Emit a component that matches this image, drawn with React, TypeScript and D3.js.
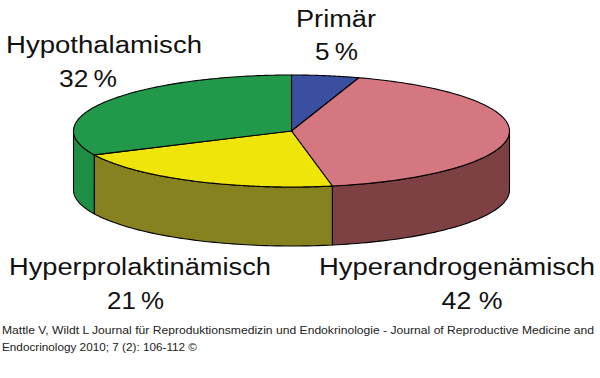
import React from "react";
import * as d3 from "d3";

const categories = ["Primär", "Hyperandrogenämisch", "Hyperprolaktinämisch", "Hypothalamisch"];
const values = [5, 42, 21, 32];
const percentLabels = ["5\u2009%", "42 %", "21\u2009%", "32\u2009%"];
const topColors = ["#3b4fa0", "#d57781", "#efe50b", "#22994a"];
const sideColors = ["#2c3c80", "#7e4143", "#86821f", "#1f8e45"];
const footerLines = [
  "Mattle V, Wildt L Journal für Reproduktionsmedizin und Endokrinologie - Journal of Reproductive Medicine and",
  "Endocrinology 2010; 7 (2): 106-112 ©",
];

// layout for labels: [centerX, nameBaseline, nameWidth, pctCenterX, pctBaseline, pctWidth]
const labelLayout = [
  { nx: 336, ny: 27, nw: 80, px: 336.5, py: 60, pw: 43 },
  { nx: 457, ny: 275, nw: 276, px: 472, py: 309, pw: 61 },
  { nx: 140, ny: 275, nw: 262, px: 135.5, py: 309, pw: 57 },
  { nx: 104, ny: 53, nw: 196, px: 88, py: 87, pw: 58 },
];

const W = 600, H = 378;
const cx = 291.5, cy = 131, rx = 218, ry = 56, depth = 59;

function pt(a: number, dy = 0): [number, number] {
  return [cx + rx * Math.sin(a), cy - ry * Math.cos(a) + dy];
}

function arcPts(a0: number, a1: number, dy = 0, n = 60): [number, number][] {
  const out: [number, number][] = [];
  for (let i = 0; i <= n; i++) out.push(pt(a0 + ((a1 - a0) * i) / n, dy));
  return out;
}

export default function App() {
  const pie = d3.pie<number>().sort(null).startAngle(0).endAngle(2 * Math.PI);
  const arcs = pie(values);
  const line = d3.line();

  const sides: { d: string; color: string }[] = [];
  arcs.forEach((a, i) => {
    const s = Math.max(a.startAngle, Math.PI / 2);
    const e = Math.min(a.endAngle, (3 * Math.PI) / 2);
    if (e > s) {
      const topPts = arcPts(s, e, 0);
      const botPts = arcPts(e, s, depth);
      sides.push({ d: (line([...topPts, ...botPts]) as string) + "Z", color: sideColors[i] });
    }
  });

  const tops = arcs.map((a, i) => {
    const pts: [number, number][] = [[cx, cy], ...arcPts(a.startAngle, a.endAngle, 0, 120)];
    return { d: (line(pts) as string) + "Z", color: topColors[i] };
  });

  return (
    <svg
      width={W}
      height={H}
      style={{ position: "absolute", left: 0, top: 0, background: "#fff" }}
      fontFamily="'Liberation Sans', Arial, sans-serif"
    >
      <rect width={W} height={H} fill="#fff" />
      <g stroke="#000" strokeWidth={1.1} strokeLinejoin="round">
        {sides.map((s, i) => (
          <path key={"s" + i} d={s.d} fill={s.color} />
        ))}
        {tops.map((t, i) => (
          <path key={"t" + i} d={t.d} fill={t.color} />
        ))}
      </g>
      <g fill="#111" fontSize={23} textAnchor="middle">
        {categories.map((c, i) => {
          const L = labelLayout[i];
          return (
            <g key={c}>
              <text x={L.nx} y={L.ny} textLength={L.nw} lengthAdjust="spacingAndGlyphs">
                {c}
              </text>
              <text x={L.px} y={L.py} textLength={L.pw} lengthAdjust="spacingAndGlyphs">
                {percentLabels[i]}
              </text>
            </g>
          );
        })}
      </g>
      <g fill="#222" fontSize={11.5}>
        <text x={2} y={334} textLength={592} lengthAdjust="spacingAndGlyphs">
          {footerLines[0]}
        </text>
        <text x={2} y={351} textLength={195} lengthAdjust="spacingAndGlyphs">
          {footerLines[1]}
        </text>
      </g>
    </svg>
  );
}
